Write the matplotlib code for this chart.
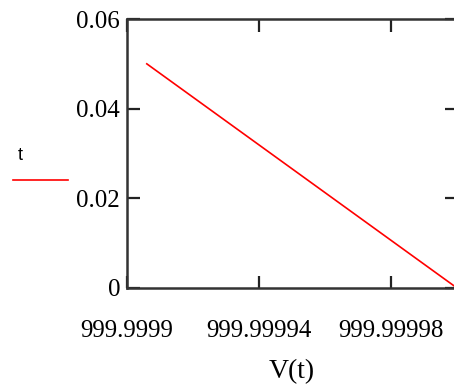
"""Mathcad-style plot of t against V(t)."""

import matplotlib

matplotlib.use("Agg")
import matplotlib.pyplot as plt  # noqa: E402
from matplotlib.lines import Line2D  # noqa: E402

# data
v_values = [999.999906, 1000.0]
t_values = [0.05, 0.0]

x_ticks = [999.9999, 999.99994, 999.99998]
x_labels = ["999.9999", "999.99994", "999.99998"]
y_ticks = [0, 0.02, 0.04, 0.06]
y_labels = ["0", "0.02", "0.04", "0.06"]

W, H = 454, 385
fig = plt.figure(figsize=(W / 100, H / 100), dpi=100)
# axes box in pixels: left 127, right 457 (cropped), top 19, bottom 288
ax = fig.add_axes([127 / W, (H - 288) / H, (457 - 127) / W, (288 - 19) / H])

ax.plot(v_values, t_values, color="#ff0000", lw=1.2)
ax.set_xlim(999.9999, 1000.0)
ax.set_ylim(0, 0.06)

serif = ["Liberation Serif", "DejaVu Serif"]
ax.set_xticks(x_ticks)
ax.set_xticklabels(x_labels, family=serif, fontsize=18)
ax.set_yticks(y_ticks)
ax.set_yticklabels(y_labels, family=serif, fontsize=18)
ax.tick_params(axis="both", direction="in", length=9, width=1.6,
               color="#222222", top=True, right=True)
ax.tick_params(axis="x", pad=23)
ax.tick_params(axis="y", pad=5)
for s in ax.spines.values():
    s.set_linewidth(1.8)
    s.set_color("#333333")

ax.set_xlabel("V(t)", family=serif, fontsize=20, labelpad=12)

# legend in the left margin
fig.text(18 / W, 1 - 156 / H, "t", family=["Liberation Sans", "DejaVu Sans"],
         fontsize=13, ha="left", va="center")
fig.add_artist(Line2D([13 / W, 68 / W], [1 - 180 / H, 1 - 180 / H],
                      color="#ff0000", lw=1.2, transform=fig.transFigure))

fig.savefig("out.png", dpi=100)
plt.close(fig)
